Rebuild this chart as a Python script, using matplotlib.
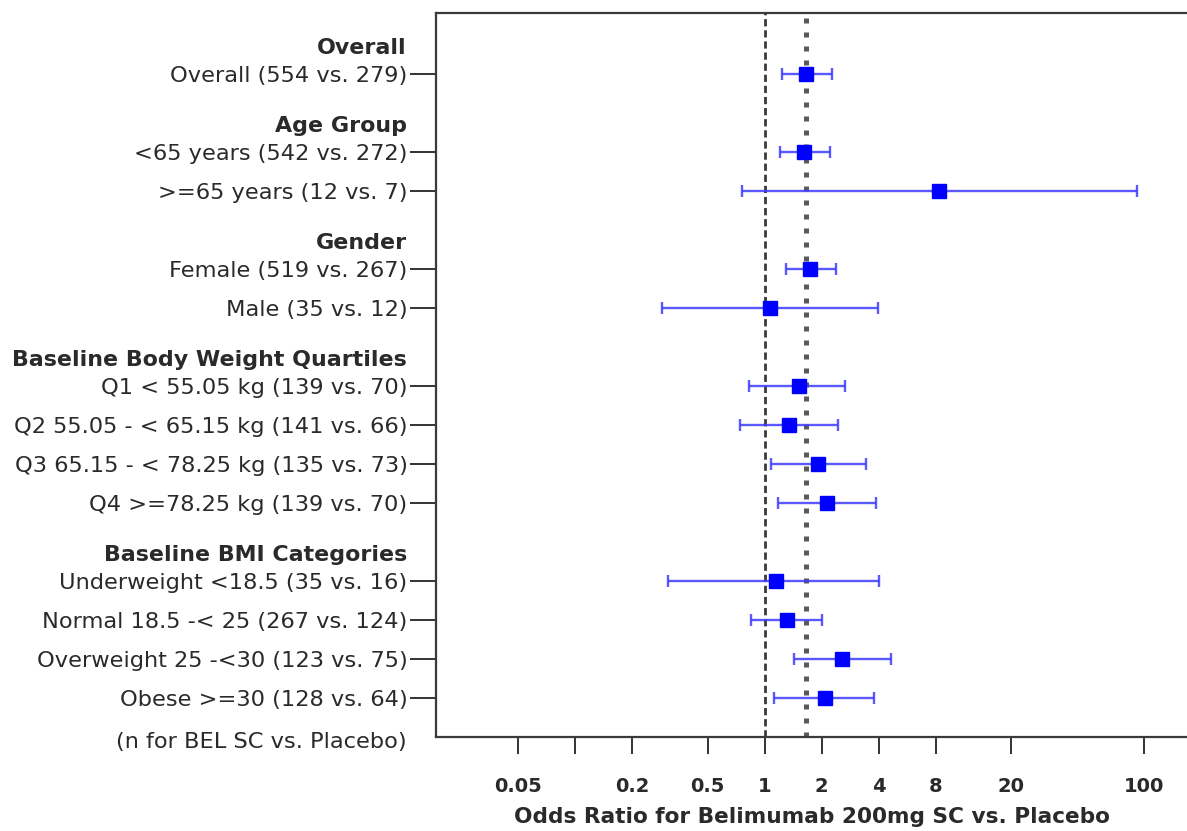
import matplotlib
matplotlib.use("Agg")
import matplotlib.pyplot as plt
import matplotlib.transforms as mtransforms
import numpy as np

# ---- data ----
labels = [
    "Overall (554 vs. 279)",
    "<65 years (542 vs. 272)",
    ">=65 years (12 vs. 7)",
    "Female (519 vs. 267)",
    "Male (35 vs. 12)",
    "Q1 < 55.05 kg (139 vs. 70)",
    "Q2 55.05 - < 65.15 kg (141 vs. 66)",
    "Q3 65.15 - < 78.25 kg (135 vs. 73)",
    "Q4 >=78.25 kg (139 vs. 70)",
    "Underweight <18.5 (35 vs. 16)",
    "Normal 18.5 -< 25 (267 vs. 124)",
    "Overweight 25 -<30 (123 vs. 75)",
    "Obese >=30 (128 vs. 64)",
]
rows = [0, 2, 3, 5, 6, 8, 9, 10, 11, 13, 14, 15, 16]
odds = [1.65, 1.61, 8.3, 1.73, 1.07, 1.51, 1.34, 1.90, 2.14, 1.14, 1.31, 2.57, 2.09]
lower = [1.24, 1.21, 0.76, 1.30, 0.287, 0.83, 0.74, 1.075, 1.18, 0.308, 0.85, 1.42, 1.12]
upper = [2.26, 2.20, 92.0, 2.37, 3.95, 2.66, 2.44, 3.43, 3.88, 4.02, 2.01, 4.64, 3.77]
headers = ["Overall", "Age Group", "Gender", "Baseline Body Weight Quartiles",
           "Baseline BMI Categories"]
header_rows = [0, 2, 5, 8, 13]
footnote = "(n for BEL SC vs. Placebo)"
xticks = [0.05, 0.1, 0.2, 0.5, 1, 2, 4, 8, 20, 100]
xticklabels = ["0.05", "", "0.2", "0.5", "1", "2", "4", "8", "20", "100"]
ref_line = 1.0
overall_line = 1.65
xlabel = "Odds Ratio for Belimumab 200mg SC vs. Placebo"

plt.rcParams['font.family'] = ['DejaVu Sans']
TXT = '#2a2a2a'
FS = 16.2

W, H = 1187, 831
fig = plt.figure(figsize=(W / 100, H / 100), dpi=100)
ax = fig.add_axes([436 / W, 1 - 737 / H, 1 - 436 / W, (737 - 13) / H])

ax.set_xscale('log')
ax.set_xlim(0.01846, 168.7)
ax.set_ylim(17.0, -1.564)

# reference lines
ax.axvline(ref_line, color='#3a3a3a', lw=2.0, ls=(0, (2.6, 1.4)), zorder=1)
ax.axvline(overall_line, color='#5a5a5a', lw=3.6, ls=(0, (1.0, 1.8)), zorder=1)

odds_a = np.array(odds)
xerr = np.vstack([odds_a - np.array(lower), np.array(upper) - odds_a])
ax.errorbar(odds_a, rows, xerr=xerr, fmt='none', ecolor='#3c3cff', elinewidth=1.7,
            capsize=4.5, capthick=1.7, alpha=0.85, zorder=2)
ax.plot(odds_a, rows, ls='none', marker='s', ms=9.5, color='#0000ff', zorder=3)

# y axis
ax.set_yticks(rows)
ax.set_yticklabels(labels, fontsize=FS, color=TXT)
ax.tick_params(axis='y', which='major', direction='out', length=19, width=1.4,
               color='#333333', pad=1.5)
ax.yaxis.set_minor_locator(matplotlib.ticker.NullLocator())

# x axis
ax.set_xticks(xticks)
ax.set_xticklabels(xticklabels, fontsize=14, fontweight='bold', color=TXT)
ax.xaxis.set_minor_locator(matplotlib.ticker.NullLocator())
ax.tick_params(axis='x', which='major', direction='out', length=12, width=1.4,
               color='#333333', pad=17)
ax.set_xlabel(xlabel, fontsize=15.6, fontweight='bold', color=TXT, labelpad=8)

for side in ['left', 'bottom', 'top']:
    ax.spines[side].set_linewidth(1.6)
    ax.spines[side].set_color('#3a3a3a')
ax.spines['right'].set_visible(False)

# headers and footnote
trans = mtransforms.blended_transform_factory(fig.transFigure, ax.transData)
for h, r in zip(headers, header_rows):
    ax.text(407 / W, r - 0.67, h, transform=trans, ha='right', va='center',
            fontsize=FS - 0.3, fontweight='bold', color=TXT, clip_on=False)
ax.text(407 / W, 17.13, footnote, transform=trans, ha='right', va='center',
        fontsize=FS, color=TXT, clip_on=False)

fig.savefig("out.png", dpi=100)
